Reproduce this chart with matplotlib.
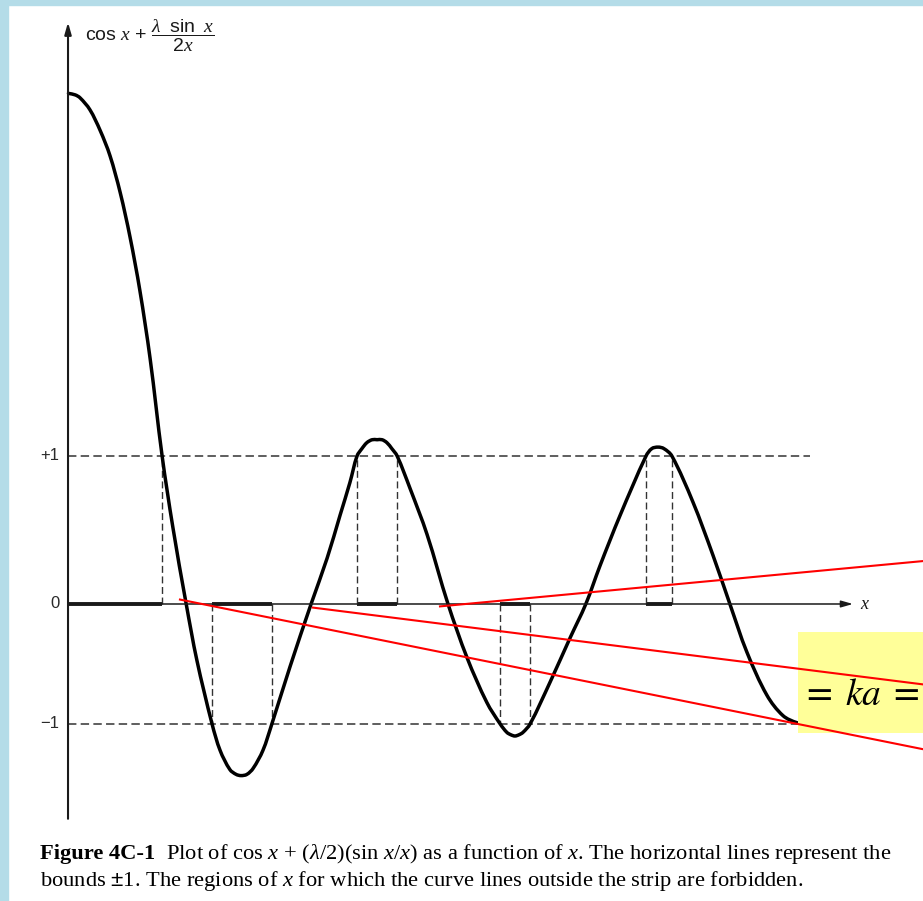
import numpy as np
import matplotlib.pyplot as plt
from matplotlib.patches import Rectangle, PathPatch
from matplotlib.path import Path

plt.rcParams['mathtext.fontset'] = 'custom'
plt.rcParams['mathtext.rm'] = 'Liberation Sans'
plt.rcParams['mathtext.it'] = 'Liberation Serif:italic'
plt.rcParams['mathtext.bf'] = 'Liberation Serif:bold'

# cos x + (lambda/2) sin x / x, x in arbitrary units (~1 per radian)
curve_x = [0.01, 0.16, 0.27, 0.49, 0.72, 0.94, 1.17, 1.39, 1.61, 1.84,
           2.11, 2.35, 2.65, 2.89, 3.23, 3.41, 3.63, 3.77, 3.88, 4.01,
           4.15, 4.37, 4.57, 4.98, 5.45, 5.81, 6.10, 6.32, 6.48, 6.59, 6.70,
           6.82, 6.93, 7.04, 7.15, 7.26, 7.38, 7.67, 8.05, 8.52, 8.95, 9.39,
           9.69, 9.84, 9.93, 10.02, 10.11, 10.20, 10.36, 10.81, 11.26, 11.61,
           11.93, 12.38, 12.96, 13.09, 13.23, 13.36, 13.54, 14.01, 14.46,
           14.84, 15.22, 15.67, 16.03, 16.35, 16.75]
curve_y = [3.45, 3.44, 3.42, 3.34, 3.20, 3.03, 2.78, 2.48, 2.12, 1.66,
           1.00, 0.52, 0.00, -0.47, -1.00, -1.22, -1.38, -1.42, -1.43, -1.42,
           -1.37, -1.22, -1.00, -0.52, 0.00, 0.31, 0.60, 0.82, 1.00, 1.05,
           1.09, 1.11, 1.11, 1.11, 1.09, 1.05, 1.00, 0.78, 0.47, 0.00, -0.45,
           -0.82, -1.00, -1.07, -1.09, -1.10, -1.09, -1.07, -1.00, -0.65,
           -0.28, 0.00, 0.26, 0.60, 1.00, 1.05, 1.06, 1.05, 1.00, 0.69, 0.33,
           0.00, -0.40, -0.76, -0.93, -0.99, -1.02]

bound = 1.0
# stretches of x where the curve leaves the strip |f| <= 1
band_lo = [0.00, 3.23, 6.48, 9.69, 12.96]
band_hi = [2.11, 4.57, 7.38, 10.36, 13.54]
band_side = [1, -1, 1, -1, 1]

# red construction lines
red_x0 = [2.51, 5.49, 8.34]
red_y0 = [0.03, -0.03, -0.02]
red_x1 = [19.17, 19.17, 19.17]
red_y1 = [-1.21, -0.67, 0.29]

XPX = 44.6  # pixels per x unit


def fwd(y):
    y = np.asarray(y, dtype=float)
    return np.where(y >= 0, y * 148.0, y * 120.0)


def inv(v):
    v = np.asarray(v, dtype=float)
    return np.where(v >= 0, v / 148.0, v / 120.0)


def smooth_path(xs, ys):
    # cubic pieces through every point, tangents taken from the neighbours
    pts = np.column_stack([np.asarray(xs) * XPX, fwd(ys)])
    n = len(pts)
    verts, codes = [pts[0]], [Path.MOVETO]
    for i in range(n - 1):
        p0, p1 = pts[max(i - 1, 0)], pts[i]
        p2, p3 = pts[i + 1], pts[min(i + 2, n - 1)]
        seg = np.hypot(*(p2 - p1)) / 3.0
        d1 = (p2 - p0) / np.hypot(*(p2 - p0))
        d2 = (p3 - p1) / np.hypot(*(p3 - p1))
        verts += [p1 + d1 * seg, p2 - d2 * seg, p2]
        codes += [Path.CURVE4] * 3
    verts = np.array(verts)
    verts[:, 0] /= XPX
    verts[:, 1] = inv(verts[:, 1])
    return Path(verts, codes)


fig = plt.figure(figsize=(9.23, 9.01), dpi=100)
ax = fig.add_axes([0, 0, 1, 1])
ax.set_yscale('function', functions=(fwd, inv))
ax.set_xlim(-1.525, 19.17)
ax.set_ylim(-2.475, 4.081)
ax.axis('off')

# page border
fig.add_artist(Rectangle((0, 0), 8 / 923, 1, transform=fig.transFigure,
                         color='#b4dce8', zorder=0))
fig.add_artist(Rectangle((0, 1 - 5 / 901), 1, 5 / 901, transform=fig.transFigure,
                         color='#b4dce8', zorder=0))

ink = '#1a1a1a'
dash = (0, (5.5, 2.8))

# axes with arrows
ax.annotate('', xy=(0, 3.93), xytext=(0, -1.79),
            arrowprops=dict(arrowstyle='-|>,head_length=0.7,head_width=0.2',
                            lw=1.5, color=ink, shrinkA=0, shrinkB=0))
ax.annotate('', xy=(17.6, 0), xytext=(0, 0),
            arrowprops=dict(arrowstyle='-|>,head_length=0.7,head_width=0.2',
                            lw=1.1, color=ink, shrinkA=0, shrinkB=0))
ax.text(17.76, 0, '$x$', fontsize=13, va='center', ha='left', color=ink)

# bounds +1 / -1
ax.plot([0, 16.64], [bound, bound], color='#333333', lw=1.1, ls=dash)
ax.plot([0, 16.40], [-bound, -bound], color='#333333', lw=1.1, ls=dash)

# bold bands on the axis and dashed drops from the bound
for lo, hi, s in zip(band_lo, band_hi, band_side):
    ax.plot([lo, hi], [0, 0], color=ink, lw=2.8, solid_capstyle='butt')
    for xe in (lo, hi):
        if xe > 0:
            ax.plot([xe, xe], [0, s * bound], color='#333333', lw=1.0,
                    ls=(0, (5.0, 2.6)))

ax.add_patch(PathPatch(smooth_path(curve_x, curve_y), fill=False,
                       edgecolor='black', lw=2.5, capstyle='round',
                       joinstyle='round', zorder=2))

# tick labels
for val, lab in [(1, '+1'), (0, '0'), (-1, '\u22121')]:
    ax.text(-0.19, val, lab, ha='right', va='center', fontsize=12,
            family='Liberation Sans', color='#2a2a2a')

# axis title
ax.text(0.38, 3.84, r'cos $x$ + $\dfrac{\lambda\ \ \mathrm{sin}\ \ x}{2x}$',
        fontsize=14, family='Liberation Sans', va='center', ha='left',
        color=ink)

# highlight box
ax.add_patch(Rectangle((16.37, -1.075), 3.0, 0.842, facecolor='#ffff99',
                       edgecolor='none', zorder=3))
ax.text(16.44, -0.842, r'$=\;ka\;=$', fontsize=27, math_fontfamily='stix',
        va='baseline', ha='left', zorder=4)

for x0, y0, x1, y1 in zip(red_x0, red_y0, red_x1, red_y1):
    ax.plot([x0, x1], [y0, y1], color='red', lw=1.5, zorder=5)

# caption
cap_size = 16.2
t1 = fig.text(40 / 923, (901 - 859) / 901, 'Figure 4C-1', family='Liberation Serif',
              weight='bold', fontsize=cap_size, va='baseline')
fig.canvas.draw()
bb = t1.get_window_extent()
fig.text((bb.x1 + 11) / 923, (901 - 859) / 901,
         r'Plot of cos $x$ + ($\lambda$/2)(sin $x$/$x$) as a function of $x$. '
         r'The horizontal lines represent the',
         family='Liberation Serif', fontsize=cap_size, va='baseline')
fig.text(40 / 923, (901 - 886) / 901,
         r'bounds $\pm$1. The regions of $x$ for which the curve lines outside '
         r'the strip are forbidden.',
         family='Liberation Serif', fontsize=cap_size, va='baseline')

fig.savefig('out.png', dpi=100)
